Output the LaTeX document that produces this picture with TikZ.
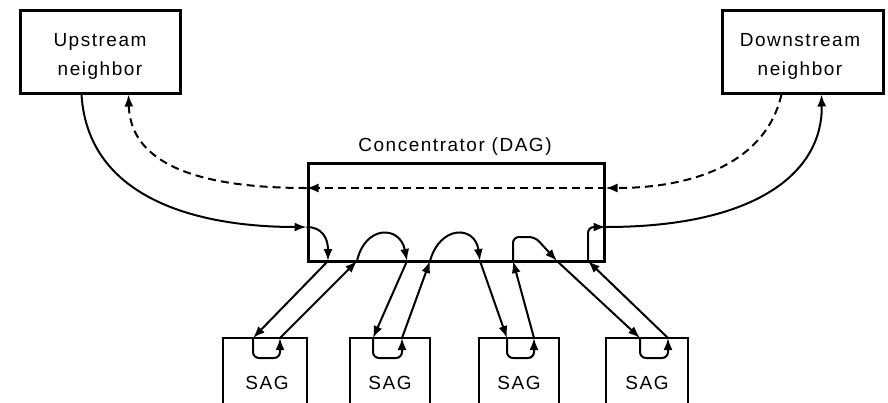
\documentclass[tikz,border=0pt]{standalone}
\usepackage{fontspec}
\setmainfont[LetterSpace=8]{Liberation Sans}
\usetikzlibrary{arrows.meta,calc}

\begin{document}
\begin{tikzpicture}[x=1pt,y=-1pt,
  box/.style={draw, line width=3pt, rectangle, inner sep=0pt},
  sagbox/.style={box, line width=2.4pt, minimum height=82pt},
  txt/.style={font=\fontsize{19}{29}\selectfont, align=center, inner sep=0pt},
  flow/.style={line width=2pt, -{Latex[length=12pt,width=9pt]}},
  back/.style={flow, dash pattern=on 8pt off 5pt},
  loopback/.style={flow, rounded corners=6pt},
]
\clip (0,0) rectangle (888,402);
\fill[white] (0,0) rectangle (888,402);

% boxes
\node[box, minimum width=160pt, minimum height=83pt] (up) at (100,51.5) {};
\node[box, minimum width=161pt, minimum height=83pt] (down) at (802.5,51.5) {};
\node[box, minimum width=296pt, minimum height=98pt] (dag) at (456,212) {};
\node[sagbox, minimum width=84pt] (sag1) at (265,379) {};
\node[sagbox, minimum width=80pt] (sag2) at (390,379) {};
\node[sagbox, minimum width=80pt] (sag3) at (519,379) {};
\node[sagbox, minimum width=82pt] (sag4) at (647,379) {};

% labels
\node[txt] (upT) at (100,56) {Upstream\\neighbor};
\node[txt] (downT) at (800,56) {Downstream\\neighbor};
\node[txt] (dagT) at (455,147) {Concentrator (DAG)};
\node[txt] (sag1T) at (267,383) {SAG};
\node[txt] (sag2T) at (390,383) {SAG};
\node[txt] (sag3T) at (519,383) {SAG};
\node[txt] (sag4T) at (647,383) {SAG};

% ports on the neighbor boxes
\coordinate (upA) at ($(up.south west)+(63,0)$);
\coordinate (upB) at ($(up.south west)+(110,0)$);
\coordinate (dnA) at ($(down.south west)+(61,0)$);
\coordinate (dnB) at ($(down.south west)+(101,0)$);
% ports on the concentrator
\coordinate (dagL1) at (dag.west |- 0,227);
\coordinate (dagL2) at (dag.west |- 0,188);
\coordinate (dagR1) at (dag.east |- 0,227);
\coordinate (dagR2) at (dag.east |- 0,188);
\foreach \n/\x in {1/328,2/357,3/407,4/430,5/480,6/513,7/557,8/588}
  \coordinate (b\n) at (\x,261);
% ports on the SAG boxes
\foreach \n/\x in {1L/253,1R/280,2L/373,2R/402,3L/507,3R/534,4L/640,4R/668}
  \coordinate (s\n) at (\x,338);

% forward path (solid)
\draw[flow] (upA) .. controls (88,200) and (200,227) .. (dagL1);
\draw[flow] (dagL1) .. controls (322,227) and (328,238) .. (b1);
\draw[flow] (b1) -- (s1L);
\draw[loopback] (s1L) -- (253,358) -- (280,358) -- (s1R);
\draw[flow] (s1R) -- (b2);
\draw[flow] (b2) .. controls (365,225) and (400,225) .. (b3);
\draw[flow] (b3) -- (s2L);
\draw[loopback] (s2L) -- (373,358) -- (402,358) -- (s2R);
\draw[flow] (s2R) -- (b4);
\draw[flow] (b4) .. controls (440,225) and (475,225) .. (b5);
\draw[flow] (b5) -- (s3L);
\draw[loopback] (s3L) -- (507,358) -- (534,358) -- (s3R);
\draw[flow] (s3R) -- (b6);
\draw[flow, rounded corners=6pt] (b6) -- (513,237) -- (535,237) -- (b7);
\draw[flow] (b7) -- (s4L);
\draw[loopback] (s4L) -- (640,358) -- (668,358) -- (s4R);
\draw[flow] (s4R) -- (b8);
\draw[flow, rounded corners=6pt] (b8) -- (588,227) -- (dagR1);
\draw[flow] (dagR1) .. controls (760,227) and (823,170) .. (dnB);

% return path (dashed)
\draw[back] (dnA) .. controls (765,165) and (690,188) .. (dagR2);
\draw[back] (dagR2) -- (dagL2);
\draw[back] (dagL2) .. controls (170,188) and (130,150) .. (upB);
\end{tikzpicture}
\end{document}
